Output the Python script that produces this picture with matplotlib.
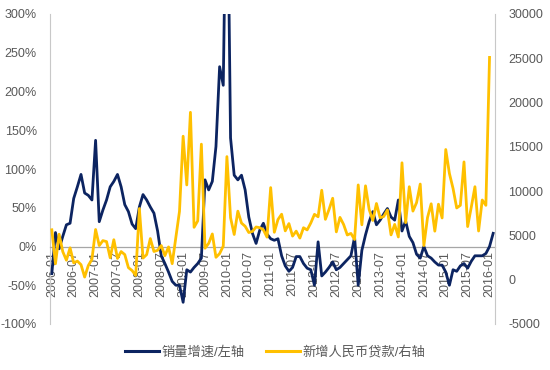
import matplotlib
matplotlib.use("Agg")
import matplotlib.pyplot as plt
from matplotlib.lines import Line2D
import numpy as np

plt.rcParams['font.family'] = ['Liberation Sans', 'Noto Sans CJK SC', 'DejaVu Sans']

# monthly categories 2006-01 .. 2016-02
months = [f"{y}-{m:02d}" for y in range(2006, 2017) for m in range(1, 13)][:122]

# 销量增速 (%), left axis
sales_growth = [
    -35, 18, -3, 13, 28, 30, 62, 77, 93, 69, 66, 60,
    137, 32, 47, 60, 77, 84, 93, 77, 54, 45, 29, 23,
    51, 67, 60, 51, 43, 20, -12, -22, -33, -45, -50, -50,
    -72, -30, -33, -27, -22, -15, 86, 73, 84, 129, 232, 208,
    540, 140, 92, 86, 92, 73, 38, 17, 4, 21, 30, 16,
    10, 8, 10, -12, -25, -32, -27, -13, -13, -22, -28, -30,
    -50, 6, -38, -33, -27, -20, -30, -27, -22, -17, -12, 12,
    -50, -5, 15, 32, 45, 28, 34, 42, 49, 38, 34, 60,
    20, 33, 13, 5, -10, -15, 0, -12, -15, -20, -24, -24,
    -33, -50, -30, -32, -25, -22, -28, -19, -12, -12, -12, -9,
    0, 17,
]

# 新增人民币贷款 (亿元), right axis
new_loans = [
    5636, 1800, 5137, 3172, 2200, 3600, 1900, 2100, 1700, 300, 1600, 2300,
    5670, 3858, 4415, 4303, 2477, 4515, 2406, 3178, 2839, 1361, 1039, 485,
    8037, 2443, 2834, 4645, 3185, 3320, 3858, 2715, 3702, 1811, 4769, 7718,
    16200, 10700, 18900, 5918, 6645, 15304, 3559, 4104, 5167, 2530, 2948, 3798,
    13900, 7000, 5107, 7740, 6394, 6034, 5328, 5452, 5955, 5873, 5640, 4807,
    10400, 5356, 6794, 7396, 5516, 6339, 4922, 5485, 4700, 5868, 5622, 6405,
    7381, 7107, 10100, 6818, 7932, 9198, 5401, 7039, 6232, 5052, 5229, 4543,
    10700, 6200, 10600, 7929, 6694, 8605, 6999, 7135, 7870, 5061, 6246, 4825,
    13200, 6445, 10500, 7747, 8708, 10800, 3852, 7025, 8572, 5483, 8527, 6973,
    14700, 12000, 10300, 8100, 8400, 13300, 6000, 8200, 10500, 5500, 9000, 8400,
    25100,
]

left_ticks = [-100, -50, 0, 50, 100, 150, 200, 250, 300]
right_ticks = [-5000, 0, 5000, 10000, 15000, 20000, 25000, 30000]
series_names = ["销量增速/左轴", "新增人民币贷款/右轴"]

navy = "#0C2461"
gold = "#FFC000"
grey_txt = "#595959"
axis_grey = "#A6A6A6"

fig = plt.figure(figsize=(5.5, 3.7), dpi=100)
ax = fig.add_axes([50/550, 1-324/370, 445/550, 310/370])
ax2 = ax.twinx()

# spine placement first (it resets ticks)
for a in (ax, ax2):
    a.spines['top'].set_visible(False)
ax2.spines['bottom'].set_visible(False)
ax.spines['bottom'].set_position(('data', 0))
ax.spines['bottom'].set_color(axis_grey)
ax.spines['bottom'].set_linewidth(0.9)
ax.spines['left'].set_color("#C8C8C8")
ax.spines['right'].set_visible(False)
ax2.spines['left'].set_visible(False)
ax2.spines['right'].set_color("#C8C8C8")
ax.set_axisbelow(True)

x1 = np.arange(len(sales_growth))
x2 = np.arange(len(new_loans))
ax.plot(x1, sales_growth, color=navy, lw=2.0, solid_joinstyle='round', zorder=3)
ax2.plot(x2, new_loans, color=gold, lw=2.0, solid_joinstyle='round', zorder=3)

ax.set_xlim(-0.5, len(months) - 0.5)
ax.set_ylim(-100, 300)
ax2.set_ylim(-5000, 30000)

ax.set_yticks(left_ticks)
ax.set_yticklabels([f"{v}%" for v in left_ticks])
ax2.set_yticks(right_ticks)
ax2.set_yticklabels([str(v) for v in right_ticks])

tick_pos = list(range(0, 121, 6))
ax.set_xticks(tick_pos)
ax.set_xticklabels([months[i] for i in tick_pos])

ax.tick_params(axis='y', length=0, pad=9.5, labelsize=9, labelcolor=grey_txt)
ax2.tick_params(axis='y', length=0, pad=9.5, labelsize=9, labelcolor=grey_txt)
ax.tick_params(axis='x', length=0, pad=3, labelsize=9, labelcolor=grey_txt,
               labelrotation=90)
ax2.tick_params(axis='x', length=0, labelbottom=False)

handles = [Line2D([], [], color=navy, lw=2.2), Line2D([], [], color=gold, lw=2.2)]
fig.legend(handles, series_names, loc='center', bbox_to_anchor=(0.5, 1-352/370),
           ncol=2, frameon=False, handlelength=2.6, handletextpad=0.15,
           columnspacing=1.6, prop={'size': 9.5}, labelcolor=grey_txt)

fig.savefig("out.png", dpi=100)
